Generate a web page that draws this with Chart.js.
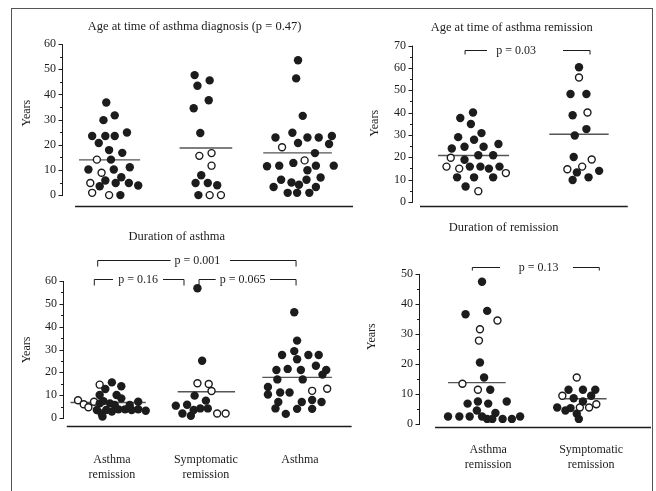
<!DOCTYPE html>
<html>
<head>
<meta charset="utf-8">
<script src="https://cdn.jsdelivr.net/npm/chart.js@4.4.0/dist/chart.umd.min.js"></script>
<style>
  body { margin: 0; background: #fff; width: 656px; height: 491px; overflow: hidden; position: relative; }
  #frame { position: absolute; left: 11px; top: 8px; width: 640px; height: 500px; border: 1px solid #555; }
  canvas { position: absolute; }
</style>
</head>
<body>
<div id="frame"></div>
<canvas id="diag" style="left:12px;top:9px" width="348" height="211"></canvas>
<canvas id="remAge" style="left:360px;top:9px" width="291" height="211"></canvas>
<canvas id="durAsthma" style="left:12px;top:216px" width="348" height="274"></canvas>
<canvas id="durRem" style="left:360px;top:216px" width="291" height="274"></canvas>
<script>
// each point: [x offset from group centre, years, open circle]
const groupNames3 = ['Asthma\nremission', 'Symptomatic\nremission', 'Asthma'];
const groupNames2 = ['Asthma\nremission', 'Symptomatic\nremission'];

// age at time of asthma diagnosis
const diagTicks = [0, 10, 20, 30, 40, 50, 60];
const diagRemission = [
  [-0.04,36.8,0],[0.05,31.7,0],[-0.07,29.8,0],[-0.19,23.5,0],[-0.05,23.5,0],[0.05,23.5,0],[0.18,24.9,0],
  [-0.12,20.7,0],[-0.01,17.9,0],[0.13,16.8,0],[-0.14,14.1,1],[0.01,14.1,0],[-0.23,10.2,0],[-0.09,8.9,1],
  [0.04,10.2,0],[0.21,11.1,0],[0.12,7.1,0],[-0.05,5.8,0],[-0.21,4.8,1],[-0.11,3.5,0],[0.06,4.8,0],
  [0.20,4.8,0],[0.30,3.8,0],[-0.19,0.9,1],[-0.01,0,1],[0.11,0,0]
];
const diagSymptomatic = [
  [-0.10,47.7,0],[0.06,45.6,0],[-0.07,43.5,0],[0.05,37.7,0],[-0.11,34.5,0],[-0.04,24.7,0],
  [-0.05,15.6,1],[0.08,16.7,1],[0.08,11.7,1],[-0.03,7.9,0],[-0.09,4.8,0],[0.04,4.8,0],[0.14,3.9,0],
  [-0.06,0,0],[0.06,0,1],[0.18,0,1]
];
const diagAsthma = [
  [0.00,53.6,0],[-0.02,46.4,0],[0.05,31.5,0],[-0.24,22.9,0],[-0.06,24.8,0],[0.10,22.9,0],[0.22,22.9,0],
  [0.36,23.5,0],[0.00,20.7,0],[0.33,20.3,0],[-0.17,19.0,1],[0.18,16.7,0],[0.07,13.8,1],[-0.33,11.5,0],
  [-0.20,11.7,0],[-0.05,12.8,0],[0.19,11.7,0],[0.38,11.7,0],[0.10,9.9,0],[-0.18,6.1,0],[-0.07,5.0,0],
  [0.09,6.1,0],[0.24,7.0,0],[-0.26,3.2,0],[0.01,4.1,0],[0.19,3.2,0],[-0.11,0.9,0],[-0.01,0.9,0],[0.12,0.9,0]
];
const diagMedians = [14.0, 18.7, 16.8];

// age at time of asthma remission
const remAgeTicks = [0, 10, 20, 30, 40, 50, 60, 70];
const remAgeRemission = [
  [-0.12,37.6,0],[0.00,40.0,0],[-0.02,34.9,0],[0.08,30.8,0],[-0.14,29.0,0],[0.01,27.8,0],[0.24,25.9,0],
  [-0.20,23.9,0],[-0.08,24.7,0],[0.10,24.7,0],[0.05,20.9,0],[0.19,20.9,0],[-0.21,19.8,1],[-0.08,18.9,0],
  [-0.25,15.8,1],[-0.13,14.9,1],[-0.03,15.8,0],[0.07,15.8,0],[0.15,14.9,0],[0.25,15.8,0],[0.31,12.9,1],
  [-0.15,11.0,0],[0.01,11.0,0],[0.19,11.0,0],[-0.07,6.9,0],[0.05,4.8,1]
];
const remAgeSymptomatic = [
  [0.00,60.3,0],[0.00,55.7,1],[-0.08,48.3,0],[0.07,48.3,0],[-0.06,38.8,0],[0.08,40.0,1],[0.07,32.6,0],
  [-0.04,29.7,0],[-0.05,20.1,0],[0.12,19.0,1],[-0.11,14.6,1],[0.03,15.8,1],[-0.02,13.2,0],[0.19,13.9,0],
  [-0.06,9.8,0],[0.09,11.0,0]
];
const remAgeMedians = [20.8, 30.3];

// duration of asthma
const durTicks = [0, 10, 20, 30, 40, 50, 60];
const durRemission = [
  [-0.11,14.6,1],[0.02,15.6,0],[-0.05,12.7,0],[0.12,13.9,0],[0.07,10.1,0],[0.12,8.6,0],[-0.11,10.1,0],
  [-0.34,7.8,1],[-0.28,6.0,1],[-0.23,4.7,1],[-0.17,7.1,1],[-0.11,6.4,0],[-0.07,7.4,0],[0.00,6.4,0],
  [0.05,5.7,0],[0.21,5.7,0],[0.30,7.1,0],[-0.14,3.5,0],[-0.09,2.0,0],[-0.04,3.5,0],[0.02,2.8,0],
  [0.09,3.8,0],[0.16,3.8,0],[0.23,3.5,0],[0.30,3.8,0],[0.38,3.2,0],[-0.08,0.6,0]
];
const durSymptomatic = [
  [-0.07,56.8,0],[-0.02,25.1,0],[-0.07,15.2,1],[0.05,14.9,1],[0.08,11.8,1],[-0.10,9.8,0],[0.02,7.6,0],
  [-0.30,5.4,0],[-0.18,5.8,0],[-0.23,2.0,0],[-0.14,1.0,0],[-0.11,3.5,0],[-0.04,4.2,0],[0.04,4.2,0],
  [0.14,2.0,1],[0.23,2.0,1]
];
const durAsthma = [
  [-0.04,46.3,0],[-0.01,33.9,0],[-0.04,29.3,0],[-0.17,27.6,0],[-0.01,25.7,0],[0.11,27.6,0],[0.22,27.6,0],
  [0.19,22.9,0],[-0.23,21.0,0],[-0.11,21.5,0],[0.03,21.0,0],[0.30,21.0,0],[0.26,19.0,0],[-0.22,16.9,0],
  [0.05,16.9,0],[-0.32,13.6,0],[-0.32,10.3,0],[-0.19,11.2,0],[-0.09,11.2,0],[0.15,11.9,1],[0.31,12.8,1],
  [-0.21,7.0,0],[0.04,7.0,0],[0.15,7.9,0],[0.25,7.0,0],[-0.24,4.2,0],[-0.13,1.8,0],[-0.01,4.0,0],[0.15,4.0,0]
];
const durMedians = [6.8, 11.5, 17.8];

// duration of remission
const durRemTicks = [0, 10, 20, 30, 40, 50];
const durRemRemission = [
  [0.00,47.4,0],[-0.16,36.6,0],[0.05,37.7,0],[0.15,34.5,1],[-0.02,31.6,1],[-0.03,27.8,1],[-0.02,20.5,0],
  [0.02,15.5,0],[-0.19,13.4,1],[-0.04,11.4,1],[0.08,11.4,0],[-0.14,6.8,0],[-0.04,7.5,0],[0.06,6.8,0],
  [0.24,7.5,0],[-0.05,4.5,0],[0.13,3.7,0],[-0.33,2.5,0],[-0.22,2.5,0],[-0.12,2.5,0],[0.00,2.5,0],
  [0.05,1.7,0],[0.10,1.7,0],[0.20,1.7,0],[0.29,1.7,0],[0.37,2.5,0]
];
const durRemSymptomatic = [
  [-0.08,15.5,1],[-0.16,11.4,0],[-0.02,11.4,0],[0.10,11.4,0],[-0.22,9.4,1],[-0.11,8.6,0],[0.06,9.4,0],
  [-0.02,7.5,0],[0.11,6.6,1],[-0.27,5.5,0],[-0.19,4.5,0],[-0.14,5.3,0],[-0.05,5.5,1],[0.04,5.5,1],
  [-0.08,3.4,0],[-0.06,1.7,0]
];
const durRemMedians = [13.8, 8.4];

const FONT = '"Liberation Serif", "Times New Roman", serif';
const INK = '#1c1c1c';

function buildSets(groups, medians, spans) {
  const sets = [];
  groups.forEach((g, i) => {
    const c = i + 1;
    const pts = g.map(p => ({ x: c + p[0], y: p[1], open: p[2] }));
    sets.push({
      data: [{ x: c + spans[i][0], y: medians[i] }, { x: c + spans[i][1], y: medians[i] }],
      showLine: true, borderColor: '#555', borderWidth: 1.4, pointRadius: 0, order: 3
    });
    sets.push({
      data: pts.filter(p => !p.open), pointRadius: 4.2, pointBorderWidth: 0,
      pointBackgroundColor: INK, pointBorderColor: INK, order: 1
    });
    sets.push({
      data: pts.filter(p => p.open), pointRadius: 3.5, pointBorderWidth: 1.4,
      pointBackgroundColor: '#fff', pointBorderColor: INK, order: 1
    });
  });
  return sets;
}

const decor = {
  id: 'decor',
  afterDatasetsDraw(chart, args, o) {
    const { ctx, chartArea: a, scales: { x, y } } = chart;
    ctx.save();
    ctx.strokeStyle = INK;
    ctx.fillStyle = INK;
    ctx.lineWidth = 1;
    // y axis with major / minor ticks
    const ax = Math.round(a.left) + 0.5;
    ctx.beginPath();
    ctx.moveTo(ax, y.getPixelForValue(0) + 1);
    ctx.lineTo(ax, y.getPixelForValue(o.yTop));
    ctx.stroke();
    for (let v = 0; v <= o.yTop; v += 5) {
      const py = Math.round(y.getPixelForValue(v)) + 0.5;
      const len = v % 10 === 0 ? 4 : 2.5;
      ctx.beginPath();
      ctx.moveTo(ax - len, py);
      ctx.lineTo(ax, py);
      ctx.stroke();
    }
    // base line under the groups
    ctx.lineWidth = 1.3;
    const by = Math.round(a.bottom) - 0.5;
    ctx.beginPath();
    ctx.moveTo(x.getPixelForValue(o.base[0]), by);
    ctx.lineTo(x.getPixelForValue(o.base[1]), by);
    ctx.stroke();
    ctx.lineWidth = 1;

    ctx.font = '12.5px ' + FONT;
    ctx.textAlign = 'center';
    ctx.textBaseline = 'middle';
    ctx.fillText(o.title, x.getPixelForValue(o.titleX), o.titleY);

    ctx.font = '12px ' + FONT;
    ctx.save();
    ctx.translate(a.left - o.yTitleDx, y.getPixelForValue(o.yTitleAt));
    ctx.rotate(-Math.PI / 2);
    ctx.fillText('Years', 0, 0);
    ctx.restore();

    if (o.cats) {
      o.cats.forEach((name, i) => {
        name.split('\n').forEach((line, k) => {
          ctx.fillText(line, x.getPixelForValue(i + 1 + o.catShift), a.bottom + o.catDy + k * 14.5);
        });
      });
    }

    (o.brackets || []).forEach(b => {
      const py = Math.round(y.getPixelForValue(b.y)) + 0.5;
      const [x0, l1, r0, x1] = b.x.map(v => x.getPixelForValue(v));
      const tx = x.getPixelForValue(b.at);
      const hw = ctx.measureText(b.text).width / 2;
      ctx.beginPath();
      ctx.moveTo(x0, py + o.tick);
      ctx.lineTo(x0, py);
      ctx.lineTo(Math.min(l1, tx - hw - 4), py);
      ctx.moveTo(Math.max(r0, tx + hw + 4), py);
      ctx.lineTo(x1, py);
      ctx.lineTo(x1, py + o.tick);
      ctx.stroke();
      ctx.fillText(b.text, tx, py);
    });
    ctx.restore();
  }
};

function panel(id, sets, ticks, lay, deco) {
  return new Chart(document.getElementById(id), {
    type: 'scatter',
    data: { datasets: sets },
    options: {
      responsive: false,
      animation: false,
      events: [],
      layout: { padding: lay.pad, autoPadding: false },
      plugins: { legend: { display: false }, tooltip: { enabled: false }, decor: deco },
      scales: {
        x: { type: 'linear', display: false, min: lay.x[0], max: lay.x[1] },
        y: {
          min: lay.y[0], max: lay.y[1],
          afterFit(s) { s.width = lay.axisW; },
          afterBuildTicks(s) { s.ticks = ticks.map(v => ({ value: v })); },
          grid: { display: false, drawTicks: false },
          border: { display: false },
          ticks: { padding: 6, color: INK, font: { family: FONT, size: 12 } }
        }
      },
      elements: { point: { hitRadius: 0 } }
    },
    plugins: [decor]
  });
}

panel('diag',
  buildSets([diagRemission, diagSymptomatic, diagAsthma], diagMedians, [[-0.33, 0.32], [-0.26, 0.30], [-0.37, 0.36]]),
  diagTicks,
  { pad: { left: 0, top: 30, right: 5, bottom: 9 }, axisW: 50, x: [0.489, 3.606], y: [-4.65, 62.06] },
  { yTop: 60, base: [0.628, 3.585], title: 'Age at time of asthma diagnosis (p = 0.47)', titleX: 1.90, titleY: 17.5,
    yTitleDx: 35, yTitleAt: 32.6 });

panel('remAge',
  buildSets([remAgeRemission, remAgeSymptomatic], remAgeMedians, [[-0.33, 0.34], [-0.28, 0.28]]),
  remAgeTicks,
  { pad: { left: 0, top: 31, right: 11, bottom: 10 }, axisW: 52, x: [0.4245, 2.5755], y: [-2.2, 72.5] },
  { yTop: 70, base: [0.50, 2.46], title: 'Age at time of asthma remission', titleX: 1.365, titleY: 18.3,
    yTitleDx: 37, yTitleAt: 35.2, tick: 4,
    brackets: [{ x: [0.925, 1.132, 1.849, 2.104], y: 68.1, at: 1.406, text: 'p = 0.03' }] });

panel('durAsthma',
  buildSets([durRemission, durSymptomatic, durAsthma], durMedians, [[-0.42, 0.38], [-0.28, 0.33], [-0.38, 0.36]]),
  durTicks,
  { pad: { left: 0, top: 34, right: 5, bottom: 63 }, axisW: 51, x: [0.5, 3.606], y: [-3.94, 73.58] },
  { yTop: 60, base: [0.54, 3.57], title: 'Duration of asthma', titleX: 1.71, titleY: 20.7,
    yTitleDx: 36, yTitleAt: 29.8, tick: 6, cats: groupNames3, catShift: 0.02, catDy: 33,
    brackets: [
      { x: [0.869, 1.670, 2.277, 2.979], y: 69.2, at: 1.93, text: 'p = 0.001' },
      { x: [0.833, 1.032, 1.564, 1.787], y: 60.9, at: 1.30, text: 'p = 0.16' },
      { x: [1.947, 2.138, 2.702, 2.979], y: 60.9, at: 2.41, text: 'p = 0.065' }
    ] });

panel('durRem',
  buildSets([durRemRemission, durRemSymptomatic], durRemMedians, [[-0.33, 0.23], [-0.24, 0.21]]),
  durRemTicks,
  { pad: { left: 0, top: 39, right: 0, bottom: 62 }, axisW: 59, x: [0.388, 2.641], y: [-1.33, 56.32] },
  { yTop: 50, base: [0.544, 2.65], title: 'Duration of remission', titleX: 1.21, titleY: 12,
    yTitleDx: 47, yTitleAt: 29.1, tick: 3, cats: groupNames2, catShift: 0.06, catDy: 22,
    brackets: [{ x: [0.906, 1.175, 1.883, 2.139], y: 52.4, at: 1.55, text: 'p = 0.13' }] });
</script>
</body>
</html>
